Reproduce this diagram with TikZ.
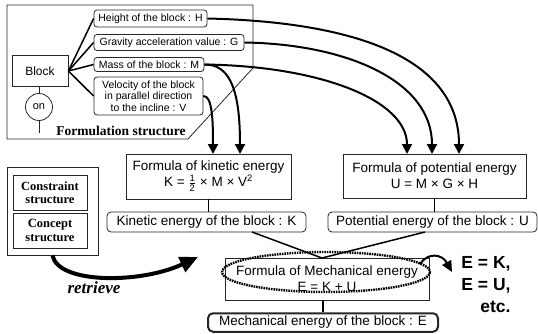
\documentclass[tikz,border=0pt]{standalone}
\usepackage{amsmath}
\usepackage{fontspec}
\setmainfont{Liberation Sans}
\newfontfamily\timesfont{Liberation Serif}
\usetikzlibrary{arrows.meta}

\begin{document}
\begin{tikzpicture}[x=1pt,y=-1pt,
  frame/.style={draw=black!85, line width=0.8pt},
  attr/.style={frame, rounded corners=3pt, inner sep=0pt, align=center, font=\fontsize{10.5}{11.5}\selectfont},
  formula/.style={frame, inner sep=0pt, align=center, font=\fontsize{13.5}{16}\selectfont},
  quantity/.style={frame, rounded corners=4pt, inner sep=0pt, font=\fontsize{13.5}{15}\selectfont},
  struct/.style={frame, inner sep=0pt, align=center, font=\timesfont\bfseries\fontsize{12.5}{13.5}\selectfont},
  link/.style={line width=1.5pt},
  flow/.style={line width=2pt, -{Triangle[length=10pt,width=10pt]}}]
  \useasboundingbox (0,0) rectangle (538,333);

  % formulation structure
  \draw[frame] (7,5) -- (253,5) -- (253,68) -- (188,139) -- (7,139) -- cycle;
  \node[frame, minimum width=56pt, minimum height=31pt, font=\fontsize{12}{14}\selectfont] (block) at (40,71) {Block};
  \node[frame, circle, minimum size=27pt, inner sep=0pt, font=\fontsize{11}{13}\selectfont] (on) at (39,107) {on};
  \coordinate (onend) at (39,133);
  \draw[frame] (on.north |- block.south) -- (on.north);
  \draw[frame] (on.south) -- (onend);

  \node[attr, minimum width=113pt, minimum height=17pt] (height) at (150.5,18.5) {Height of the block : H};
  \node[attr, minimum width=150pt, minimum height=16pt] (gravity) at (169,42.5) {Gravity acceleration value : G};
  \node[attr, minimum width=110pt, minimum height=14pt] (mass) at (149,64.5) {Mass of the block : M};
  \node[attr, minimum width=109pt, minimum height=38pt] (velocity) at (148.5,96) {Velocity of the block\\in parallel direction\\to the incline : V};
  \foreach \a in {height,gravity,mass,velocity}
    \draw[link] (block.east) -- (\a.west);
  \node[font=\timesfont\bfseries\fontsize{13.5}{15}\selectfont] (formlabel) at (121,131) {Formulation structure};

  % formulas and quantities
  \node[formula, minimum width=165pt, minimum height=45pt] (kinform) at (208.5,176.5)
    {Formula of kinetic energy\\K = $\frac{\text{1}}{\text{2}}$ × M × V\textsuperscript{2}};
  \node[formula, minimum width=183pt, minimum height=44pt] (potform) at (434.5,176)
    {Formula of potential energy\\U = M × G × H};
  \node[quantity, minimum width=199pt, minimum height=20pt] (kin) at (206.5,222) {Kinetic energy of the block : K};
  \node[quantity, minimum width=209pt, minimum height=20pt] (pot) at (432.5,222) {Potential energy of the block : U};
  \draw[link] (kinform.south) -- (kinform.south |- kin.north);
  \draw[link] (potform.south) -- (potform.south |- pot.north);

  \node[formula, minimum width=204pt, minimum height=42pt] (mechform) at (327,279)
    {Formula of Mechanical energy\\E = K + U};
  \node[quantity, line width=2pt, rounded corners=5pt, minimum width=230pt, minimum height=18.5pt] (mech) at (323,322.5)
    {Mechanical energy of the block : E};
  \coordinate (kinout) at (252,232);
  \coordinate (potout) at (425,232);
  \coordinate (meet) at (322,258);
  \draw[link] (kinout) -- (meet) -- (potout);
  \draw[link] (mechform.south -| mech.north) -- (mech.north);
  \draw[line width=2.4pt, dash pattern=on 1.6pt off 0.9pt] (326,272) ellipse [x radius=104, y radius=20];

  % attributes feed the formulas
  \draw[flow] (height.east) .. controls (360,22) and (459,60) .. (459,154);
  \draw[flow] (gravity.east) .. controls (345,44) and (432,80) .. (432,154);
  \draw[flow] (mass.east) .. controls (320,66) and (407,100) .. (407,154);
  \draw[flow] (mass.east) .. controls (232,64) and (240,95) .. (240,154);
  \draw[flow] (velocity.east) .. controls (212,96) and (213,118) .. (213,154);

  % constraint and concept structures
  \node[frame, minimum width=91pt, minimum height=88pt] (knowledge) at (52.5,211) {};
  \node[struct, minimum width=74pt, minimum height=35pt] (constraint) at (50,192.5) {Constraint\\structure};
  \node[struct, minimum width=74pt, minimum height=35pt] (concept) at (50,230.5) {Concept\\structure};
  \coordinate (retrievetip) at (198,257);
  \draw[line width=4pt, -{Triangle[length=18pt,width=16pt]}] (knowledge.south) .. controls (58,284) and (140,284) .. (retrievetip);
  \node[font=\timesfont\bfseries\itshape\fontsize{17}{19}\selectfont] (retrieve) at (94,288) {retrieve};

  % results
  \coordinate (ellout) at (420,264);
  \coordinate (restip) at (452,272);
  \draw[line width=2pt, -{Triangle[length=11pt,width=10pt]}] (ellout) .. controls (428,252) and (442,254) .. (restip);
  \node[font=\bfseries\fontsize{17.5}{22}\selectfont, align=right] (results) at (486,285) {E = K,\\E = U,\\etc.};
\end{tikzpicture}
\end{document}
